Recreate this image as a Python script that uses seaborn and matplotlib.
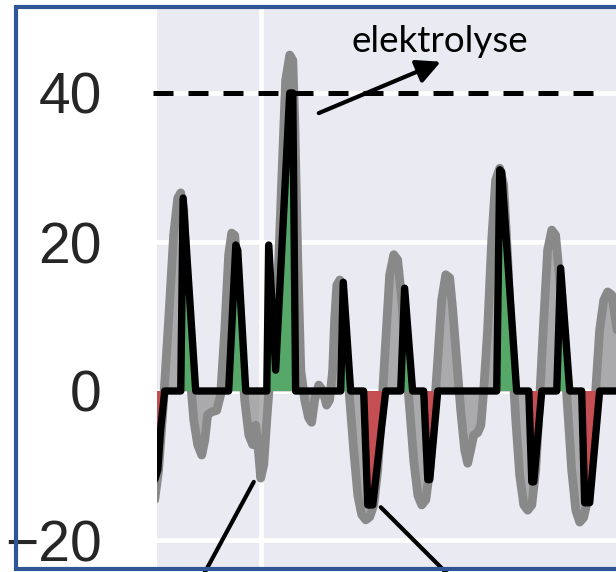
import numpy as np
import matplotlib
matplotlib.use("Agg")
import matplotlib.pyplot as plt
from matplotlib.lines import Line2D
import seaborn as sns

# ----------- Data (hours, value) -----------
gray_hours = [-0.9, 0.9, 3.2, 5.5, 7.8, 9.7, 11.1, 12.5, 13.8, 15.2, 17.1, 18.9, 20.8, 22.2, 23.5,
              25.4, 27.7, 29.5, 31.4, 33.2, 34.6, 36.0, 37.4, 38.8, 40.6, 42.5, 44.3, 45.7, 47.1,
              48.0, 49.4, 50.8, 53.5, 55.8, 57.7, 59.5, 61.4, 62.8, 63.7, 65.1, 66.5, 68.3, 70.1,
              71.5, 72.9, 74.8, 76.6, 78.4, 79.8, 81.2, 82.1, 83.1, 84.5, 85.8, 87.2, 89.1, 90.9,
              92.8, 94.6, 96.5, 98.3, 100.2, 102.0, 103.8, 105.7, 107.5, 109.4, 111.2, 113.1, 114.9,
              116.8, 118.6, 120.5, 122.3, 124.2, 126.0, 127.8, 129.7, 131.5, 133.4, 135.2, 136.6,
              138.4, 140.3, 142.1, 143.5, 144.9, 146.3, 148.1, 149.6, 150.9, 152.7, 154.6, 156.4,
              158.3, 160.1, 162.0, 163.8, 165.7, 167.5, 169.4, 171.2, 173.1, 174.9, 176.7, 178.6,
              180.4, 182.3, 184.1, 186.0, 187.8, 189.7, 191.5, 193.4, 195.2, 197.0, 198.9, 200.7,
              202.6, 204.4, 206.3, 208.1, 210.0, 211.8, 213.7]
gray_values = [-14.6, -10.6, -1.2, 9.5, 20.9, 25.9, 26.6, 24.3, 13.6, 2.8, -3.9, -7.2, -8.6, -6.6, -3.2,
               -2.8, -2.6, -0.5, 8.2, 18.3, 21.2, 20.9, 16.2, 6.8, -1.2, -5.9, -7.2, -4.6, -8.6,
               -11.7, -9.9, -3.9, 6.8, 13.6, 28.3, 41.7, 45.1, 44.4, 36.4, 17.6, 2.8, -1.2, -3.6,
               -4.2, -1.2, 0.8, 0.1, -1.9, -1.2, 2.8, 9.5, 14.2, 14.9, 12.2, 5.5, -1.2, -7.9,
               -14.0, -16.6, -17.3, -16.9, -15.3, -10.6, -2.6, 6.8, 15.6, 18.3, 17.6, 12.2, 4.2,
               -2.6, -9.3, -14.0, -15.3, -14.6, -10.6, -3.9, 4.2, 12.2, 15.6, 15.2, 10.9,
               4.2, -2.6, -7.9, -9.7, -7.9, -5.9, -5.6, -4.6, 0.1, 8.2, 20.3, 28.3,
               29.9, 27.7, 17.6, 5.5, -3.9, -11.3, -15.3, -16.0, -15.3, -10.6, -1.2, 9.5,
               18.9, 21.6, 20.9, 14.9, 5.5, -2.6, -10.6, -16.0, -17.6, -17.0, -14.6, -7.9,
               0.1, 8.2, 12.2, 13.3, 12.9, 9.5, 5.5]

black_hours = [-0.9, 0.5, 1.8, 3.7, 11.1, 12.2, 18.0, 33.2, 36.5, 37.4, 41.1, 50.8, 51.7, 54.9,
               61.4, 62.8, 64.1, 84.9, 86.1, 89.5, 95.5, 97.4, 99.7, 105.7, 112.6, 114.4, 118.1,
               123.2, 125.1, 126.0, 129.7, 156.9, 158.3, 159.2, 166.1, 171.7, 173.1, 174.0, 177.7,
               184.6, 186.4, 190.6, 196.1, 197.5, 199.8, 204.4, 214.1]
black_values = [-11.9, -10.6, -5.2, 0, 0, 25.9, 0, 0, 19.6, 18.9, 0, 0, 19.6, 2.8,
                40.0, 40.0, 0, 0, 14.6, 0, 0, -15.3, -15.3, 0, 0, 13.8, 0,
                0, -11.9, -11.9, 0, 0, 29.7, 29.4, 0, 0, -12.2, -12.2, 0,
                0, 16.5, 0, 0, -15.0, -15.0, 0, 0]

electrolysis_cap = 40
y_ticks = [-20, 0, 20, 40]
x_ticks = [48]
label_text = "elektrolyse"

# ----------- Style -----------
sns.set_theme(style="darkgrid")
plt.rcParams["font.family"] = ["Liberation Sans", "DejaVu Sans"]

W, H = 616, 572
fig = plt.figure(figsize=(W / 100, H / 100), dpi=100)
ax_left, ax_top, ax_bottom = 156.7, 6, 569
ax = fig.add_axes([ax_left / W, 1 - ax_bottom / H, (W - ax_left) / W, (ax_bottom - ax_top) / H])

px_per_hour = 2.167
px_per_unit = 7.45
zero_px = 391
ax.set_xlim(0, (W - ax_left) / px_per_hour)
ax.set_ylim((zero_px - ax_bottom) / px_per_unit, (zero_px - ax_top) / px_per_unit)

gh = np.array(gray_hours)
gv = np.array(gray_values)
bh = np.array(black_hours)
bv = np.array(black_values)

# ----------- Plot -----------
ax.fill_between(gh, gv, 0, color="gray", alpha=0.6, lw=0, zorder=2)
sns.lineplot(x=gh, y=gv, ax=ax, color="#898989", lw=6.3, sort=False, estimator=None,
             solid_joinstyle="round", solid_capstyle="round", zorder=3)
ax.fill_between(bh, bv, 0, where=bv > 0, interpolate=True, color="#55A868", lw=0, zorder=4)
ax.fill_between(bh, bv, 0, where=bv < 0, interpolate=True, color="#C44E52", lw=0, zorder=4)
sns.lineplot(x=bh, y=bv, ax=ax, color="black", lw=5.3, sort=False, estimator=None,
             solid_joinstyle="round", solid_capstyle="round", zorder=5)

ax.hlines(electrolysis_cap, -1.8, 203.5, colors="black", linestyles=(0, (4, 3)), lw=3.6,
          clip_on=False, zorder=6)

# annotations
ax.text(130.6, 45.5, label_text, ha="center", va="baseline", fontsize=26.5,
        family=["Lato", "DejaVu Sans"], color="black", zorder=7)
ax.annotate("", xy=(131.1, 44.2), xytext=(74.8, 37.3),
            arrowprops=dict(arrowstyle="-|>", lw=3, color="black", mutation_scale=36,
                            shrinkA=0, shrinkB=0), zorder=7)
ax.annotate("", xy=(44.8, -12.2), xytext=(-46, -85), textcoords="offset points",
            arrowprops=dict(arrowstyle="-", lw=3, color="black", shrinkA=0, shrinkB=0),
            zorder=7)
ax.annotate("", xy=(103.4, -15.6), xytext=(67, -67), textcoords="offset points",
            arrowprops=dict(arrowstyle="-", lw=3, color="black", shrinkA=0, shrinkB=0),
            zorder=7)

# ----------- Axes -----------
ax.set_yticks(y_ticks)
ax.set_xticks(x_ticks)
ax.set_xticklabels([""] * len(x_ticks))
ax.tick_params(axis="y", labelsize=41, pad=39.5, length=0, labelcolor="#262626")
ax.grid(True, color="white", lw=3.4)
ax.set_xlabel("")
ax.set_ylabel("")
for s in ax.spines.values():
    s.set_visible(False)

# frame around the screenshot
bx, by_top, by_bot = 15.8, 6.5, 568.5
fig.add_artist(Line2D([(W + 10) / W, bx / W, bx / W, (W + 10) / W],
                      [1 - by_top / H, 1 - by_top / H, 1 - by_bot / H, 1 - by_bot / H],
                      transform=fig.transFigure, color="#2F5597", lw=3, zorder=10,
                      solid_joinstyle="miter"))

fig.savefig("out.png", dpi=100)
